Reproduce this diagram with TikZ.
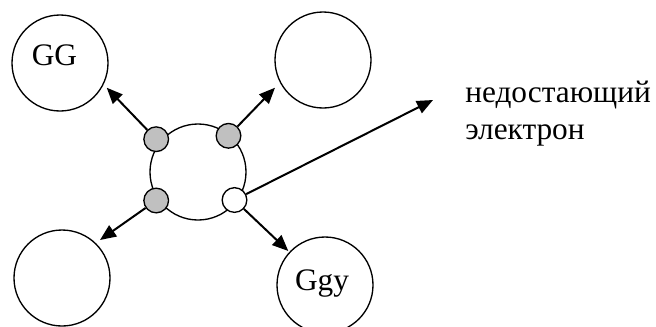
\documentclass[tikz,border=0pt]{standalone}
\usepackage{fontspec}
\setmainfont{Liberation Serif}
\usetikzlibrary{arrows.meta}

\begin{document}
\begin{tikzpicture}[x=0.75pt,y=0.75pt,yscale=-1,xscale=1,
		ball/.style={draw,circle,line width=1pt,minimum size=72pt,inner sep=0pt},
		hole/.style={draw,circle,line width=1pt,minimum size=18.5pt,inner sep=0pt,fill=white},
		pair/.style={hole,fill={rgb, 255:red, 192; green, 192; blue, 192 }},
		bond/.style={line width=1.5pt,-{Triangle[length=12pt,width=10pt]}},
		txt/.style={font=\fontsize{23.5}{28}\selectfont,inner sep=0pt}]
		\useasboundingbox (0,0) rectangle (656,326);
		\node [ball] (gg) at (60,63) {};
		\node [ball] (nb) at (323,60) {};
		\node [ball] (sw) at (62,278) {};
		\node [ball] (ggy) at (325,285) {};
		\node [ball] (atom) at (198,172) {};
		\node [pair] (pnw) at (156.2,139.2) {};
		\node [pair] (pne) at (228.5,135.8) {};
		\node [pair] (psw) at (156.2,200.5) {};
		\node [hole] (free) at (234.5,200) {};
		\coordinate (tgg) at (106.7,87.7);
		\coordinate (tnb) at (275,87.7);
		\coordinate (tsw) at (100,240);
		\coordinate (tggy) at (288.3,251);
		\coordinate (tel) at (433,100);
		\draw [bond] (pnw) -- (tgg);
		\draw [bond] (pne) -- (tnb);
		\draw [bond] (psw) -- (tsw);
		\draw [bond] (free) -- (tggy);
		\draw [bond] (free) -- (tel);
		\node [txt,anchor=base] (ggtext) at (54.5,65) {GG};
		\node [txt,anchor=base] (ggytext) at (322,290) {Ggy};
		\node [txt,anchor=base west] (elup) at (465,102) {недостающий};
		\node [txt,anchor=base west] (eldown) at (465,139) {электрон};
\end{tikzpicture}
\end{document}
